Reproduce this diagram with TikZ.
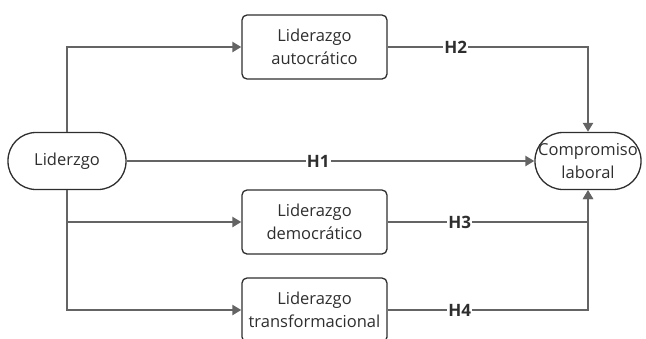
\documentclass[tikz,border=0pt]{standalone}
\usepackage{fontspec}
\setmainfont{Open Sans}
\usetikzlibrary{arrows.meta}
\definecolor{edgec}{HTML}{646464}
\definecolor{txtc}{HTML}{2E2E2E}
\begin{document}
\begin{tikzpicture}[x=1pt,y=-1pt,
  box/.style={draw=txtc,line width=1.3pt,rounded corners=5pt,minimum width=145pt,minimum height=64pt,align=center,text=txtc,font=\fontsize{16.5}{23}\selectfont,inner sep=0pt},
  pill/.style={draw=txtc,line width=1.3pt,rounded corners=28pt,minimum height=57pt,align=center,text=txtc,font=\fontsize{16.5}{23}\selectfont,inner sep=0pt},
  conn/.style={draw=edgec,line width=2.4pt,-{Triangle[length=9pt,width=10pt]}},
  hlab/.style={fill=white,text=txtc,font=\bfseries\fontsize{17}{19}\selectfont,inner sep=1pt}]
\useasboundingbox (0,0) rectangle (646,338);
\clip (0,0) rectangle (646,338);
\node[pill,minimum width=118pt] (lid) at (67,161) {Liderzgo};
\node[pill,minimum width=106pt] (comp) at (588,161) {Compromiso\\laboral};
\node[box] (auto) at (314.5,47) {Liderazgo\\autocrático};
\node[box] (demo) at (314.5,222) {Liderazgo\\democrático};
\node[box] (trans) at (314.5,310) {Liderazgo\\transformacional};
\coordinate (c2) at (comp.north |- auto.east);
\coordinate (c3) at (comp.south |- demo.east);
\coordinate (c4) at (comp.south |- trans.east);
\draw[conn] (lid.north) |- (auto.west);
\draw[conn] (lid.south) |- (demo.west);
\draw[conn] (lid.south) |- (trans.west);
\draw[conn] (lid.east) -- node[hlab,pos=0.47]{H1} (comp.west);
\draw[conn] (auto.east) -- node[hlab,pos=0.34]{H2} (c2) -- (comp.north);
\draw[conn] (demo.east) -- node[hlab,pos=0.36]{H3} (c3) -- (comp.south);
\draw[conn] (trans.east) -- node[hlab,pos=0.36]{H4} (c4) -- (comp.south);
\end{tikzpicture}
\end{document}
